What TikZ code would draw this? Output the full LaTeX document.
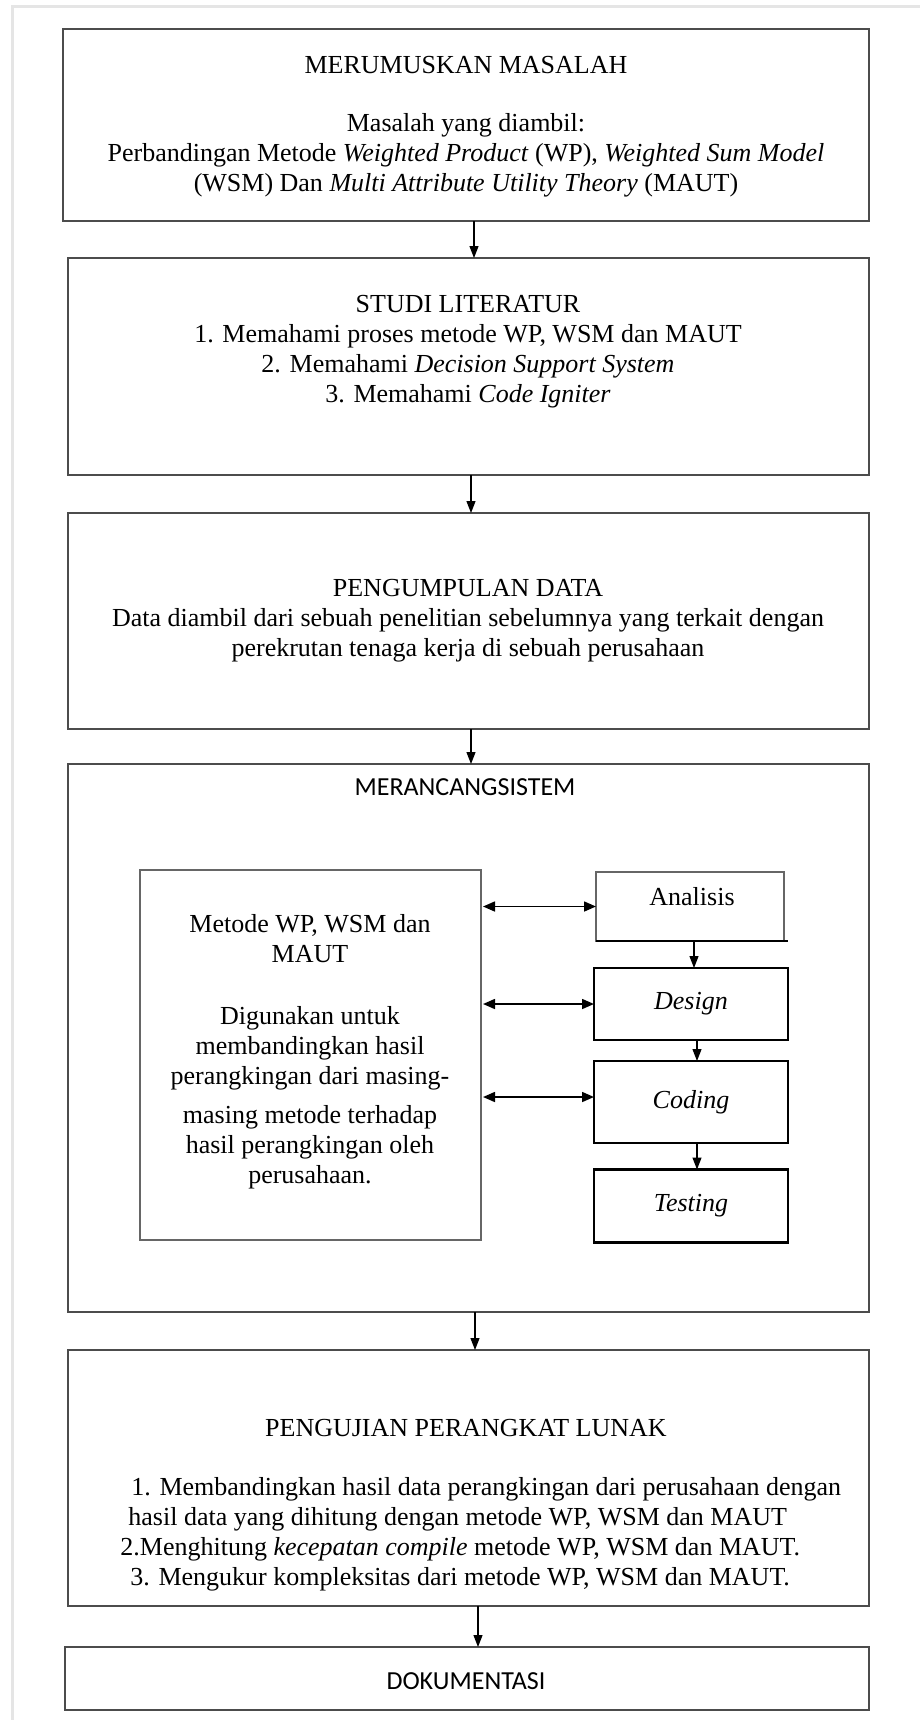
\documentclass[tikz,border=0pt]{standalone}
\usepackage{fontspec}
\setmainfont{Liberation Serif}
\newfontfamily\calibri{Carlito}
\usetikzlibrary{arrows.meta}

\tikzset{
  box/.style={draw=black!70,line width=1pt,inner sep=0pt,outer sep=0pt},
  thinbox/.style={draw=black!60,line width=0.7pt,inner sep=0pt,outer sep=0pt},
  stepbox/.style={draw=black,line width=1.4pt,inner sep=0pt,outer sep=0pt,minimum width=97pt},
  txt/.style={align=center,inner sep=0pt},
  arr/.style={line width=0.6pt,-{Triangle[length=6pt,width=4.5pt]}},
  dblarr/.style={line width=0.8pt,{Triangle[length=6pt,width=5pt]}-{Triangle[length=6pt,width=5pt]}}
}

\begin{document}
\begin{tikzpicture}[x=0.5pt,y=-0.5pt,font=\fontsize{13}{15}\selectfont]
                    \useasboundingbox (0,0) rectangle (920,1720);
                    \draw[gray!20,line width=1.5pt](12,1720)--(12,6)--(920,6);
                    % main boxes
                    \node[box,minimum width=403pt,minimum height=96pt](b1) at (466,125){};
                    \node[box,minimum width=400.5pt,minimum height=108.5pt](b2) at (468,366.5){};
                    \node[box,minimum width=400.5pt,minimum height=108pt](b3) at (468,621){};
                    \node[box,minimum width=400.5pt,minimum height=274pt](b4) at (468,1038){};
                    \node[box,minimum width=400.5pt,minimum height=128pt](b5) at (468,1478){};
                    \node[box,minimum width=402pt,minimum height=31.5pt](b6) at (467,1678.5){};
                    % texts
                    \node[txt](t1) at (466,65){MERUMUSKAN MASALAH};
                    \node[txt](d1) at (466,155){Masalah yang diambil:\\Perbandingan Metode \textit{Weighted Product} (WP), \textit{Weighted Sum Model}\\(WSM) Dan \textit{Multi Attribute Utility Theory} (MAUT)};
                    \node[txt](d2) at (468,351.5){STUDI LITERATUR\\1. Memahami proses metode WP, WSM dan MAUT\\2. Memahami \textit{Decision Support System}\\3. Memahami \textit{Code Igniter}};
                    \node[txt](d3) at (468,621){PENGUMPULAN DATA\\Data diambil dari sebuah penelitian sebelumnya yang terkait dengan\\perekrutan tenaga kerja di sebuah perusahaan};
                    \node[txt,font=\calibri\fontsize{13}{15}\selectfont](t4) at (465,787){MERANCANGSISTEM};
                    \node[txt](t5) at (466,1428){PENGUJIAN PERANGKAT LUNAK};
                    \node[txt,align=left,anchor=west](d5) at (128,1534.5){\hspace*{1.5pt}1. Membandingkan hasil data perangkingan dari perusahaan dengan\\hasil data yang dihitung dengan metode WP, WSM dan MAUT\\\hspace*{-4pt}2.Menghitung \textit{kecepatan compile} metode WP, WSM dan MAUT.\\\hspace*{1pt}3. Mengukur kompleksitas dari metode WP, WSM dan MAUT.};
                    \node[txt,font=\calibri\fontsize{13}{15}\selectfont](t6) at (466,1681){DOKUMENTASI};
                    % inside MERANCANGSISTEM
                    \node[thinbox,minimum width=170.5pt,minimum height=185pt](metode) at (310.5,1055){};
                    \node[txt](dm) at (310,1051.5){Metode WP, WSM dan\\MAUT\\[16pt]Digunakan untuk\\membandingkan hasil\\perangkingan dari masing-\\[4.5pt]masing metode terhadap\\hasil perangkingan oleh\\perusahaan.};
                    \node[thinbox,minimum width=94pt,minimum height=34.5pt](analisis) at (690,906.5){};
                    \draw[black,line width=1.4pt](analisis.south west)--([xshift=2pt]analisis.south east);
                    \node[txt](ta) at (692,897){Analisis};
                    \node[stepbox,minimum height=36pt](design) at (691,1004){\textit{Design}};
                    \node[stepbox,minimum height=41pt](coding) at (691,1102){\textit{Coding}};
                    \node[stepbox,minimum height=36.5pt](testing) at (691,1206){\textit{Testing}};
                    % connectors
                    \draw[arr]([xshift=4pt]b1.south)--([xshift=4pt]b1.south |- b2.north);
                    \draw[arr]([xshift=1.5pt]b2.south)--([xshift=1.5pt]b2.south |- b3.north);
                    \draw[arr]([xshift=1.5pt]b3.south)--([xshift=1.5pt]b3.south |- b4.north);
                    \draw[arr]([xshift=3.5pt]b4.south)--([xshift=3.5pt]b4.south |- b5.north);
                    \draw[arr]([xshift=5pt]b5.south)--([xshift=5pt]b5.south |- b6.north);
                    \draw[arr]([xshift=2pt]analisis.south)--([xshift=2pt]analisis.south |- design.north);
                    \draw[arr]([xshift=3pt]design.south)--([xshift=3pt]design.south |- coding.north);
                    \draw[arr]([xshift=3pt]coding.south)--([xshift=3pt]coding.south |- testing.north);
                    \draw[dblarr]([xshift=1pt]metode.east |- analisis.west)--(analisis.west);
                    \draw[dblarr]([xshift=1pt]metode.east |- design.west)--(design.west);
                    \draw[dblarr]([xshift=1pt,yshift=2.5pt]metode.east |- coding.west)--([yshift=2.5pt]coding.west);
                \end{tikzpicture}
\end{document}
